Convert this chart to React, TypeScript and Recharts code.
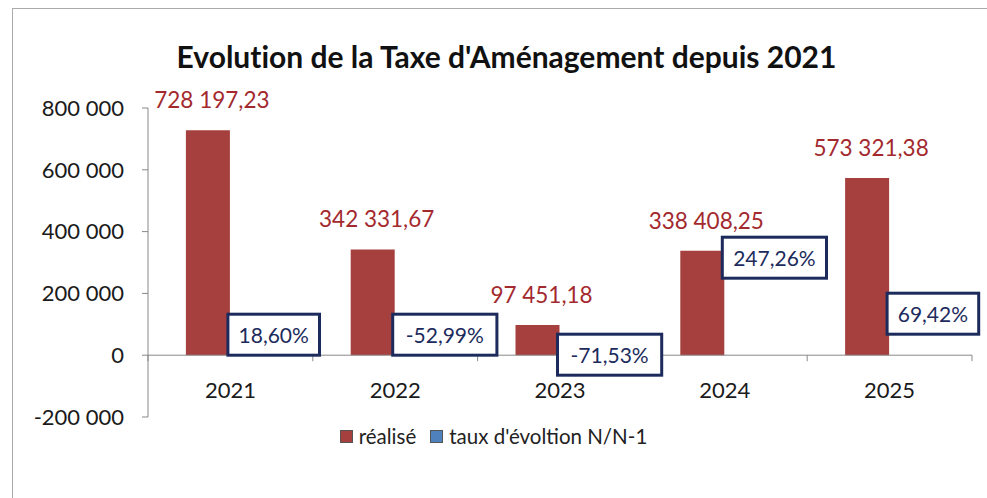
import { BarChart, Bar, XAxis, YAxis, ReferenceLine, LabelList, Legend } from 'recharts'

const categories = ['2021', '2022', '2023', '2024', '2025']
const realise = [728197.23, 342331.67, 97451.18, 338408.25, 573321.38]
// taux d'évolution N/N-1, plotted on the same axis as in the original sheet (bars are ~0 px)
const tauxEvolution = [0.186, -0.5299, -0.7153, 2.4726, 0.6942]
const yTicks = [-200000, 0, 200000, 400000, 600000, 800000]

// label lift (px) for the taux boxes, moved by hand in the original
const tauxLabelLift = [0, 0, -20, 77, 21]

const W = 987
const H = 498
const M = { top: 108, right: 15, bottom: 80, left: 12 }
const Y_AXIS_W = 136
const PLOT_LEFT = M.left + Y_AXIS_W
const PLOT_W = W - M.right - PLOT_LEFT
const PLOT_H = H - M.top - M.bottom - 1
const ZERO_Y = M.top + PLOT_H * 0.8
const BAND = PLOT_W / categories.length

const FONT = 'Lato, "Open Sans", sans-serif'
const RED = '#a5403f'
const RED_TEXT = '#a3292e'
const BLUE = '#4f81bd'
const NAVY = '#1c2b5c'

const data = categories.map((annee, i) => ({
  annee,
  realise: realise[i],
  taux: tauxEvolution[i],
}))

function frNumber(v: number, decimals = 0) {
  const fixed = Math.abs(v).toFixed(decimals)
  const [int, dec] = fixed.split('.')
  const grouped = int.replace(/\B(?=(\d{3})+(?!\d))/g, ' ')
  return (v < 0 ? '-' : '') + grouped + (dec ? ',' + dec : '')
}

// eslint-disable-next-line @typescript-eslint/no-explicit-any
function CategoryTick(props: any) {
  const { x, payload, index } = props
  const last = index === categories.length - 1
  return (
    <g>
      <line x1={x - BAND / 2} x2={x - BAND / 2} y1={ZERO_Y} y2={ZERO_Y + 6} stroke="#888" />
      {last && <line x1={x + BAND / 2} x2={x + BAND / 2} y1={ZERO_Y} y2={ZERO_Y + 6} stroke="#888" />}
      <text x={x} y={ZERO_Y + 43} textAnchor="middle" fontSize={22} fill="#1a1a1a" fontFamily={FONT}>
        {payload.value}
      </text>
    </g>
  )
}

// eslint-disable-next-line @typescript-eslint/no-explicit-any
function RealiseLabel(props: any) {
  const { x, y, width, value } = props
  return (
    <text x={x + width / 2 + 4} y={y - 22} textAnchor="middle" fontSize={22.5} fill={RED_TEXT} fontFamily={FONT}>
      {frNumber(value, 2)}
    </text>
  )
}

// eslint-disable-next-line @typescript-eslint/no-explicit-any
function TauxLabel(props: any) {
  const { x, index, value } = props
  const text = (value * 100).toFixed(2).replace('.', ',') + '%'
  const w = text.length * 12.6 + 16
  const h = 41
  const lift = tauxLabelLift[index] ?? 0
  const top = ZERO_Y - h - lift
  const left = x - 2
  return (
    <g>
      <rect x={left} y={top} width={w} height={h} fill="#fff" stroke={NAVY} strokeWidth={3} />
      <text x={left + w / 2} y={top + h / 2 + 8} textAnchor="middle" fontSize={21} fill={NAVY} fontFamily={FONT}>
        {text}
      </text>
    </g>
  )
}

function LegendContent() {
  const items = [
    { label: 'réalisé', color: RED },
    { label: "taux d'évoltion N/N-1", color: BLUE },
  ]
  return (
    <div style={{ display: 'flex', justifyContent: 'center', gap: 14, fontFamily: FONT, fontSize: 20.5, color: '#222' }}>
      {items.map((it) => (
        <span key={it.label} style={{ display: 'flex', alignItems: 'center', gap: 6 }}>
          <span style={{ width: 11, height: 11, background: it.color, border: '1px solid #555', display: 'inline-block' }} />
          {it.label}
        </span>
      ))}
    </div>
  )
}

export default function App() {
  return (
    <div style={{ position: 'relative', width: W, height: H, background: '#fff' }}>
      <style>{'body{margin:0}'}</style>
      <div
        style={{
          position: 'absolute',
          left: 12,
          top: 8,
          right: -2,
          bottom: -2,
          border: '1px solid #aaa',
        }}
      />
      <div
        style={{
          position: 'absolute',
          top: 38,
          left: 13,
          width: W,
          textAlign: 'center',
          fontFamily: FONT,
          fontWeight: 700,
          fontSize: 30,
          lineHeight: '36px',
          fontVariantLigatures: 'none',
          color: '#111',
        }}
      >
        Evolution de la Taxe d'Aménagement depuis 2021
      </div>
      <BarChart width={W} height={H} data={data} margin={M} barCategoryGap="23%" barGap={0}>
        <XAxis
          dataKey="annee"
          height={1}
          axisLine={false}
          tickLine={false}
          interval={0}
          tick={<CategoryTick />}
        />
        <YAxis
          width={Y_AXIS_W}
          domain={[-200000, 800000]}
          ticks={yTicks}
          interval={0}
          tickFormatter={(v: number) => frNumber(v)}
          tick={{ fill: '#1a1a1a', fontSize: 22, fontFamily: FONT }}
          axisLine={{ stroke: '#888' }}
          tickLine={{ stroke: '#888' }}
          tickSize={6}
          tickMargin={18}
        />
        <ReferenceLine y={0} stroke="#888" />
        <Legend
          verticalAlign="middle"
          layout="horizontal"
          content={<LegendContent />}
          wrapperStyle={{ top: 424, left: 0, width: W }}
        />
        <Bar dataKey="realise" name="réalisé" fill={RED} isAnimationActive={false}>
          <LabelList dataKey="realise" content={<RealiseLabel />} />
        </Bar>
        <Bar dataKey="taux" name="taux d'évoltion N/N-1" fill={BLUE} isAnimationActive={false}>
          <LabelList dataKey="taux" content={<TauxLabel />} />
        </Bar>
      </BarChart>
    </div>
  )
}
